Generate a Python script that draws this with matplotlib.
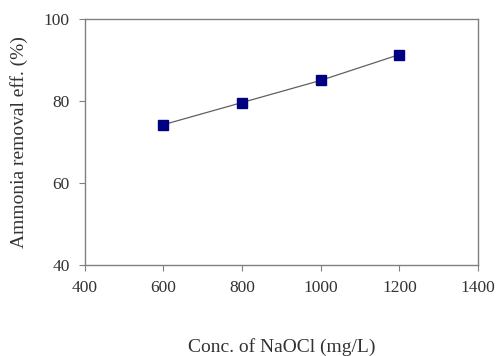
import matplotlib
matplotlib.use('Agg')
import matplotlib.pyplot as plt

conc = [600, 800, 1000, 1200]
removal = [74.2, 79.6, 85.0, 91.3]
x_ticks = [400, 600, 800, 1000, 1200, 1400]
y_ticks = [40, 60, 80, 100]

plt.rcParams['font.family'] = ['Liberation Serif', 'DejaVu Serif']

fig = plt.figure(figsize=(4.96, 3.56), dpi=100)
ax = fig.add_axes([0.171, 0.256, 0.793, 0.691])

ax.plot(conc, removal, color='#606060', lw=0.9, marker='s', ms=7,
        mfc='#000080', mec='#000080')

ax.set_xlim(400, 1400)
ax.set_ylim(40, 100)
ax.set_xticks(x_ticks)
ax.set_yticks(y_ticks)
for s in ax.spines.values():
    s.set_color('#808080')
    s.set_linewidth(1.0)
ax.tick_params(direction='out', length=4, color='#808080', labelsize=12.5,
               labelcolor='#333333', pad=7)

ax.set_xlabel('Conc. of NaOCl (mg/L)', fontsize=14, color='#333333', labelpad=30)
ax.set_ylabel('Ammonia removal eff. (%)', fontsize=14, color='#333333', labelpad=11)

fig.savefig('out.png', dpi=100)
